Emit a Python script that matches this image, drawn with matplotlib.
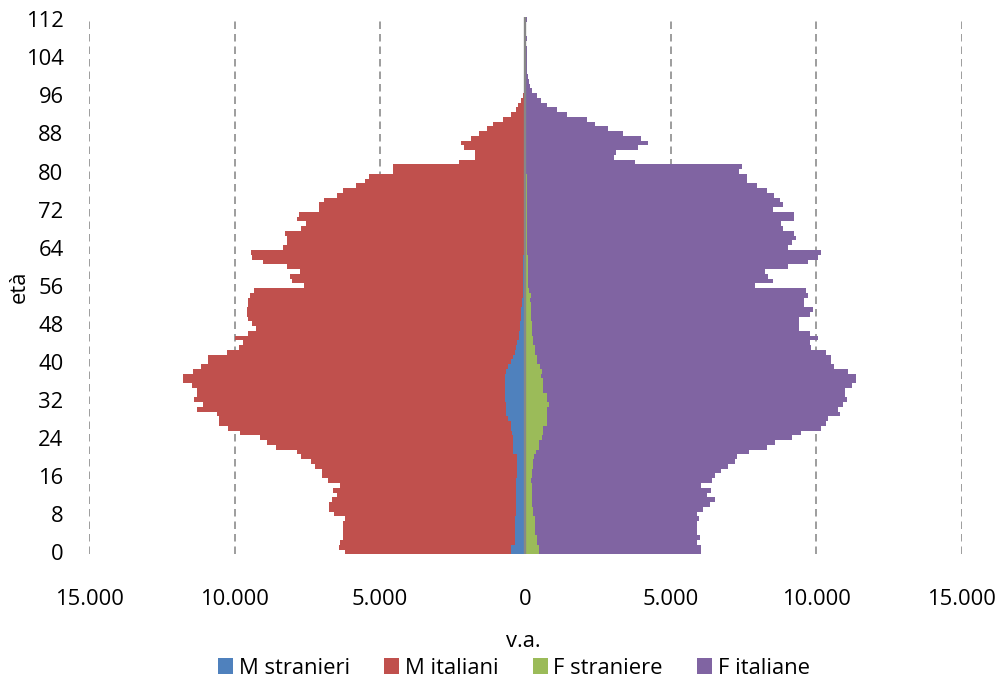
import numpy as np
import matplotlib
matplotlib.use('Agg')
import matplotlib.pyplot as plt
from matplotlib.patches import Patch
from matplotlib.ticker import FuncFormatter

# eta' 0..112, valori assoluti (v.a.)
eta = np.arange(0, 113)

m_stranieri = [510, 510, 361, 361, 361, 361, 361, 361, 327, 327,
               327, 327, 327, 327, 327, 327, 281, 281, 281, 281,
               304, 419, 419, 419, 419, 465, 510, 510, 613, 671,
               671, 671, 705, 705, 705, 705, 705, 705, 671, 590,
               510, 441, 373, 327, 281, 235, 212, 189, 189, 155,
               155, 155, 120, 120, 86, 86, 80, 80, 80, 80,
               80, 80, 80, 60, 60, 60, 60, 60, 60, 60,
               40, 40, 40, 40, 40, 40, 40, 40, 40, 40,
               20, 20, 20, 20, 20, 20, 20, 20, 20, 20,
               5, 5, 5, 5, 5, 5, 5, 5, 5, 5,
               0, 0, 0, 0, 0, 0, 0, 0, 0, 0, 0, 0, 0]

m_italiani = [5699, 5917, 6020, 5929, 5906, 5906, 5906, 5848, 6249, 6422,
              6422, 6341, 6169, 6284, 6054, 6456, 6708, 6708, 6960, 7109,
              7430, 7453, 8164, 8485, 8714, 9356, 9714, 10044, 9941, 9952,
              10640, 10433, 10688, 10606, 10606, 10757, 11088, 11065, 10774, 10583,
              10401, 10470, 9906, 9529, 9426, 9758, 9323, 9082, 9209, 9380,
              9415, 9415, 9415, 9415, 9391, 9243, 7529, 7963, 8021, 7677,
              8136, 8961, 9318, 9394, 8293, 8156, 8156, 8213, 7674, 7491,
              7832, 7763, 7064, 7064, 6881, 6434, 6227, 5791, 5481, 5333,
              4550, 4550, 2268, 1717, 1717, 2085, 2199, 1865, 1580, 1315,
              1123, 779, 504, 322, 263, 150, 71, 45, 30, 20,
              15, 12, 10, 8, 6, 5, 4, 3, 3, 2, 2, 1, 1]

f_straniere = [464, 464, 384, 384, 327, 327, 327, 327, 269, 269,
               235, 235, 235, 235, 235, 189, 212, 235, 269, 269,
               304, 361, 464, 464, 579, 614, 614, 728, 728, 728,
               728, 797, 728, 728, 591, 591, 591, 540, 556, 499,
               407, 407, 327, 327, 269, 269, 224, 224, 224, 178,
               178, 178, 178, 155, 178, 132, 97, 97, 97, 97,
               97, 97, 97, 60, 60, 60, 60, 60, 60, 60,
               40, 40, 40, 40, 40, 40, 40, 40, 40, 40,
               20, 20, 20, 20, 20, 20, 20, 20, 20, 20,
               5, 5, 5, 5, 5, 5, 5, 5, 5, 5,
               0, 0, 0, 0, 0, 0, 0, 0, 0, 0, 0, 0, 0]

f_italiane = [5573, 5573, 5505, 5619, 5562, 5562, 5562, 5641, 5620, 5849,
              6112, 6284, 5997, 6135, 5802, 6238, 6307, 6480, 6708, 6938,
              6960, 7327, 7832, 8119, 8600, 8863, 9540, 9609, 9690, 10091,
              10034, 10113, 10320, 10263, 10400, 10652, 10778, 10829, 10549, 10125,
              10091, 10091, 10010, 9483, 9518, 9805, 9563, 9184, 9184, 9230,
              9609, 9701, 9402, 9425, 9551, 9517, 7798, 8406, 8234, 8142,
              8944, 9632, 9977, 10094, 8981, 9119, 9245, 9176, 8787, 8729,
              9196, 9196, 8463, 8807, 8715, 8508, 8260, 7912, 7591, 7591,
              7336, 7439, 3747, 3036, 3093, 3861, 4205, 3942, 3322, 2829,
              2386, 2099, 1411, 1067, 723, 517, 379, 230, 150, 104,
              80, 70, 60, 55, 50, 45, 40, 20, 40, 10, 10, 10, 40]

serie = ['M stranieri', 'M italiani', 'F straniere', 'F italiane']
colori = ['#4F81BD', '#C0504D', '#9BBB59', '#8064A2']

plt.rcParams['font.family'] = ['Open Sans', 'DejaVu Sans']

fig = plt.figure(figsize=(10.01, 6.77), dpi=100)
ax = fig.add_axes([0.0892, 0.1812, 0.8714, 0.7937])

ms = -np.array(m_stranieri)
mi = -np.array(m_italiani)
fs = np.array(f_straniere)
fi = np.array(f_italiane)

ax.barh(eta, ms, height=1.0, color=colori[0], linewidth=0, zorder=2)
ax.barh(eta, mi, left=ms, height=1.0, color=colori[1], linewidth=0, zorder=2)
ax.barh(eta, fs, height=1.0, color=colori[2], linewidth=0, zorder=2)
ax.barh(eta, fi, left=fs, height=1.0, color=colori[3], linewidth=0, zorder=2)

xt = [-15000, -10000, -5000, 0, 5000, 10000, 15000]
for v in xt:
    if v != 0:
        ax.axvline(v, color='#8c8c8c', lw=1.2, ls=(0, (4.5, 3)), zorder=1)
ax.axvline(0, color='#878787', lw=1.7, zorder=3)

ax.set_xlim(-15000, 15000)
ax.set_ylim(-0.5, 112.5)
ax.set_xticks(xt)
ax.xaxis.set_major_formatter(FuncFormatter(lambda v, p: f'{abs(int(v)):,}'.replace(',', '.')))
ax.set_yticks(range(0, 113, 8))
ax.tick_params(axis='x', length=0, labelsize=15.8, pad=25)
ax.tick_params(axis='y', length=0, labelsize=15.8, pad=18.5)
for s in ax.spines.values():
    s.set_visible(False)

fig.text(19 / 1001, 1 - 287 / 677, 'età', rotation=90, ha='center', va='center', fontsize=15.8)
fig.text(523 / 1001, 1 - 647 / 677, 'v.a.', ha='center', va='baseline', fontsize=15.8)

handles = [Patch(facecolor=c, edgecolor='none', label=l) for c, l in zip(colori, serie)]
fig.legend(handles=handles, loc='center', bbox_to_anchor=(514 / 1001, 1 - 668 / 677), ncol=4,
           frameon=False, fontsize=15.8, handlelength=0.68, handleheight=0.73,
           handletextpad=0.27, columnspacing=1.55, borderpad=0, borderaxespad=0)

fig.savefig('out.png', dpi=100)
